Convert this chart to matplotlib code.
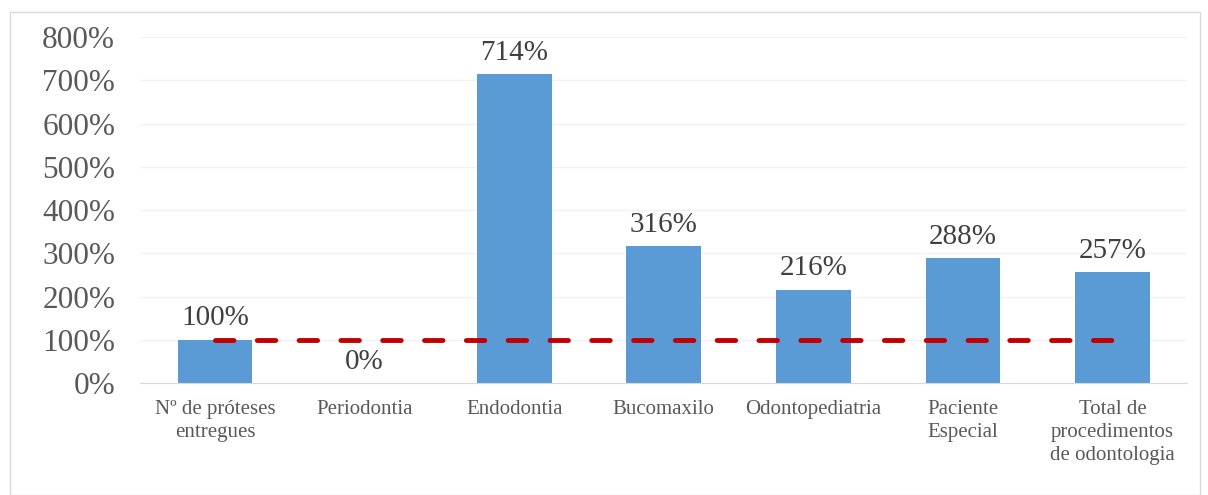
import matplotlib.pyplot as plt
from matplotlib.patches import Rectangle

categorias = ["Nº de próteses\nentregues", "Periodontia", "Endodontia", "Bucomaxilo",
              "Odontopediatria", "Paciente\nEspecial", "Total de\nprocedimentos\nde odontologia"]
valores = [100, 0, 714, 316, 216, 288, 257]
meta = 100
yticks = [0, 100, 200, 300, 400, 500, 600, 700, 800]

plt.rcParams['font.family'] = ['Liberation Serif', 'DejaVu Serif']

fig = plt.figure(figsize=(12.08, 4.95), dpi=100)
ax = fig.add_axes([0.116, 0.2263, 0.867, 0.6987])

x = list(range(len(categorias)))
ax.bar(x, [v / 100 for v in valores], width=0.5, color="#5B9BD5", zorder=2)
ax.plot([x[0], x[-1]], [meta / 100, meta / 100], color="#C00000", lw=3.5,
        dashes=(3.8, 4.8), dash_capstyle="round", zorder=3)

for xi, v in zip(x, valores):
    ax.annotate(f"{v}%", (xi, v / 100), xytext=(0, 6), textcoords="offset points",
                ha="center", va="bottom", fontsize=21, color="#404040")

ax.set_xlim(-0.5, len(categorias) - 0.5)
ax.set_ylim(0, 8)
ax.set_yticks([t / 100 for t in yticks])
ax.set_yticklabels([f"{t}%" for t in yticks], fontsize=22.5, color="#595959")
ax.set_xticks(x)
ax.set_xticklabels(categorias, fontsize=15, color="#595959", linespacing=1.3)
ax.tick_params(axis="both", length=0)
ax.tick_params(axis="x", pad=12)
ax.tick_params(axis="y", pad=18)
ax.grid(axis="y", color="#F2F2F2", lw=1, zorder=0)
for s in ["top", "right", "left"]:
    ax.spines[s].set_visible(False)
ax.spines["bottom"].set_color("#D9D9D9")

fig.patches.append(Rectangle((10 / 1208, 0), 1190 / 1208, 483 / 495, transform=fig.transFigure,
                             fill=False, edgecolor="#D9D9D9", lw=1))

fig.savefig("out.png", dpi=100)
